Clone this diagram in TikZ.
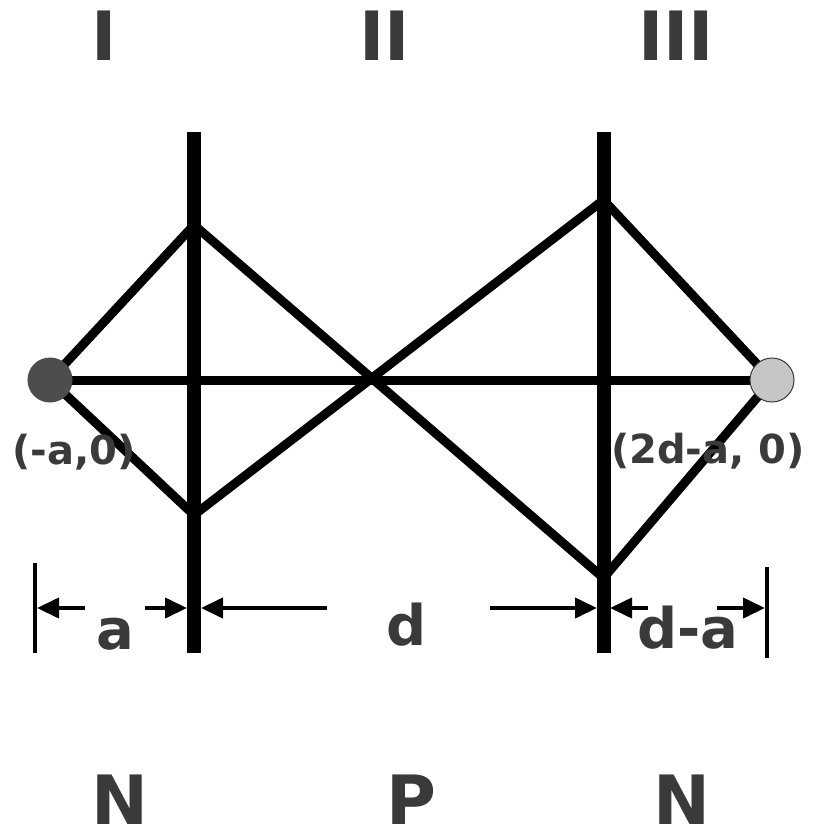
\documentclass[tikz,border=0pt]{standalone}
\usepackage{fontspec}
\setmainfont{DejaVu Sans}
\usetikzlibrary{arrows.meta}
\definecolor{txt}{HTML}{3A3A3A}
\definecolor{srcdark}{HTML}{4D4D4D}
\definecolor{srclight}{HTML}{C6C6C6}
\tikzset{
  wall/.style={line width=14pt},
  ray/.style={line width=9pt, line join=round},
  dimline/.style={line width=4pt, -{Triangle[length=22pt,width=20pt]}},
  tick/.style={line width=3.5pt},
  big/.style={text=txt, font=\fontsize{68}{70}\selectfont\bfseries, inner sep=0pt, anchor=base},
  mid/.style={text=txt, font=\fontsize{56}{60}\selectfont\bfseries, inner sep=0pt, anchor=base},
  small/.style={text=txt, font=\fontsize{40}{44}\selectfont\bfseries, inner sep=0pt},
}
\begin{document}
\begin{tikzpicture}[x=1pt,y=-1pt]
\useasboundingbox (0,0) rectangle (813,836);
% walls
\coordinate (w1t) at (194,132); \coordinate (w1b) at (194,653);
\coordinate (w2t) at (603.5,132); \coordinate (w2b) at (603.5,653);
% ray points
\coordinate (S) at (50,380);
\coordinate (R) at (772,380);
\coordinate (p1) at (194,225);
\coordinate (p2) at (194,515);
\coordinate (q1) at (603.5,200);
\coordinate (q2) at (603.5,578);
% rays
\draw[ray] (S) -- (R);
\draw[ray] (S) -- (p1) -- (q2) -- (R);
\draw[ray] (S) -- (p2) -- (q1) -- (R);
\draw[wall] (w1t) -- (w1b);
\draw[wall] (w2t) -- (w2b);
% sources
\node[circle, fill=srcdark, draw=srcdark, line width=1pt, minimum size=44pt, inner sep=0pt] (src) at (S) {};
\node[circle, fill=srclight, draw=txt, line width=1pt, minimum size=44pt, inner sep=0pt] (img) at (R) {};
% coordinate labels
\node[small] (lS) at (74,452) {(-a,0)};
\node[small] (lR) at (708,451) {(2d-a, 0)};
% dimension ticks
\coordinate (t1a) at (35,563); \coordinate (t1b) at (35,653);
\coordinate (t2a) at (767,567); \coordinate (t2b) at (767,658);
\draw[tick] (t1a) -- (t1b);
\draw[tick] (t2a) -- (t2b);
% dimension arrows
\coordinate (a1) at (85,608); \coordinate (a1e) at (37,608);
\coordinate (a2) at (145,608); \coordinate (a2e) at (187,608);
\coordinate (d1) at (327,608); \coordinate (d1e) at (201,608);
\coordinate (d2) at (490,608); \coordinate (d2e) at (597,608);
\coordinate (e1) at (648,608); \coordinate (e1e) at (610,608);
\coordinate (e2) at (717,608); \coordinate (e2e) at (765,608);
\draw[dimline] (a1) -- (a1e);
\draw[dimline] (a2) -- (a2e);
\draw[dimline] (d1) -- (d1e);
\draw[dimline] (d2) -- (d2e);
\draw[dimline] (e1) -- (e1e);
\draw[dimline] (e2) -- (e2e);
% dimension labels
\node[mid] (la) at (115,649) {a};
\node[mid] (ld) at (407,645) {d};
\node[mid] (lda) at (688,648) {d-a};
% region labels
\node[big] (r1) at (104.5,60) {I};
\node[big] (r2) at (385,60) {II};
\node[big] (r3) at (676,60) {III};
\node[big] (n1) at (120,824) {N};
\node[big] (n2) at (411,824) {P};
\node[big] (n3) at (682,824) {N};
\end{tikzpicture}
\end{document}
